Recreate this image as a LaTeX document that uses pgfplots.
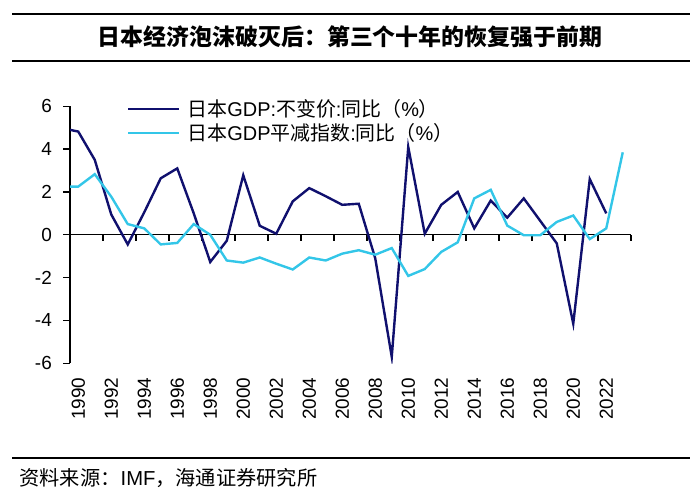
\documentclass[border=0pt]{standalone}
\usepackage{fontspec}
\setmainfont{Liberation Sans}
\newfontfamily\cjk{Noto Sans CJK SC}
\usepackage{pgfplots}
\pgfplotsset{compat=1.18}
\definecolor{darkser}{RGB}{16,16,110}
\definecolor{lightser}{RGB}{51,198,232}
\begin{document}
\begin{tikzpicture}[x=1bp,y=1bp]
\useasboundingbox (0,0) rectangle (700,497);
% title band
\draw[line width=1.5bp] (12,483) -- (690,483);
\draw[line width=1.5bp] (12,436) -- (690,436);
\node at (350,460) {\fontsize{23}{23}\selectfont\cjk\bfseries 日本经济泡沫破灭后：第三个十年的恢复强于前期};
% footer
\draw[line width=1.5bp] (12,39) -- (690,39);
\node[anchor=west] at (16,19) {\fontsize{20.3}{20.3}\selectfont{\cjk 资料来源：}IMF{\cjk ，海通证券研究所}};
% zero line with ticks
\begin{axis}[
  at={(70bp,133.7bp)}, anchor=south west,
  width=561bp, height=257bp, scale only axis,
  xmin=1989.5, xmax=2023.5, ymin=-6, ymax=6,
  axis x line=middle, axis y line=none,
  x axis line style={-, line width=1.3bp, black},
  xtick={1991.5,1993.5,1995.5,1997.5,1999.5,2001.5,2003.5,2005.5,2007.5,2009.5,2011.5,2013.5,2015.5,2017.5,2019.5,2021.5,2023.5},
  xticklabels={},
  tick align=outside, major tick length=6bp,
  major tick style={line width=1.3bp, black},
]
\end{axis}
\begin{axis}[
  at={(70bp,133.7bp)}, anchor=south west,
  width=561bp, height=257bp, scale only axis,
  xmin=1989.5, xmax=2023.5, ymin=-6, ymax=6,
  axis x line*=bottom, axis y line*=left,
  x axis line style={draw=none},
  y axis line style={-, line width=1.3bp, black},
  xtick={1990,1992,...,2022},
  xticklabels={1990,1992,1994,1996,1998,2000,2002,2004,2006,2008,2010,2012,2014,2016,2018,2020,2022},
  major x tick style={draw=none},
  ytick={-6,-4,-2,0,2,4,6},
  yticklabels={-6,-4,-2,0,2,4,6},
  tick align=outside, major tick length=7bp,
  major y tick style={line width=1.3bp, black},
  tick label style={font=\fontsize{19}{19}\selectfont},
  xticklabel style={rotate=90, anchor=east, inner sep=0pt, xshift=-7bp},
  yticklabel style={inner sep=0pt, xshift=-11bp},
  legend style={at={(axis description cs:0.1016,1.03)}, anchor=north west, draw=none, fill=none,
    font=\fontsize{20}{20}\selectfont, row sep=3.5bp, inner sep=0pt,
    nodes={inner sep=1bp, anchor=west},
    /tikz/every odd column/.append style={column sep=6bp}},
  legend cell align=left,
  legend image code/.code={\draw[#1] (0bp,0bp) -- (51bp,0bp);},
]
\addplot[darkser, line width=2.4bp] coordinates {
(1989.5,4.9) (1990,4.82) (1991,3.5) (1992,0.95) (1993,-0.45) (1994,1.05) (1995,2.64) (1996,3.1)
(1997,1.0) (1998,-1.27) (1999,-0.28) (2000,2.78) (2001,0.42) (2002,0.05) (2003,1.56) (2004,2.18)
(2005,1.8) (2006,1.4) (2007,1.45) (2008,-1.1) (2009,-5.7) (2010,4.1) (2011,0.05) (2012,1.4)
(2013,2.0) (2014,0.3) (2015,1.6) (2016,0.8) (2017,1.7) (2018,0.65) (2019,-0.4) (2020,-4.15)
(2021,2.6) (2022,1.0)};
\addlegendentry{{\cjk 日本}GDP:{\cjk 不变价}:{\cjk 同比（}\%{\cjk ）}}
\addplot[lightser, line width=2.4bp] coordinates {
(1989.5,2.25) (1990,2.25) (1991,2.83) (1992,1.78) (1993,0.5) (1994,0.3) (1995,-0.45) (1996,-0.38)
(1997,0.5) (1998,0.0) (1999,-1.2) (2000,-1.3) (2001,-1.06) (2002,-1.35) (2003,-1.62) (2004,-1.06)
(2005,-1.2) (2006,-0.88) (2007,-0.72) (2008,-0.93) (2009,-0.62) (2010,-1.92) (2011,-1.6) (2012,-0.8)
(2013,-0.35) (2014,1.7) (2015,2.1) (2016,0.43) (2017,-0.02) (2018,-0.02) (2019,0.6) (2020,0.9)
(2021,-0.2) (2022,0.3) (2023,3.85)};
\addlegendentry{{\cjk 日本}GDP{\cjk 平减指数}:{\cjk 同比（}\%{\cjk ）}}
\end{axis}
\end{tikzpicture}
\end{document}
